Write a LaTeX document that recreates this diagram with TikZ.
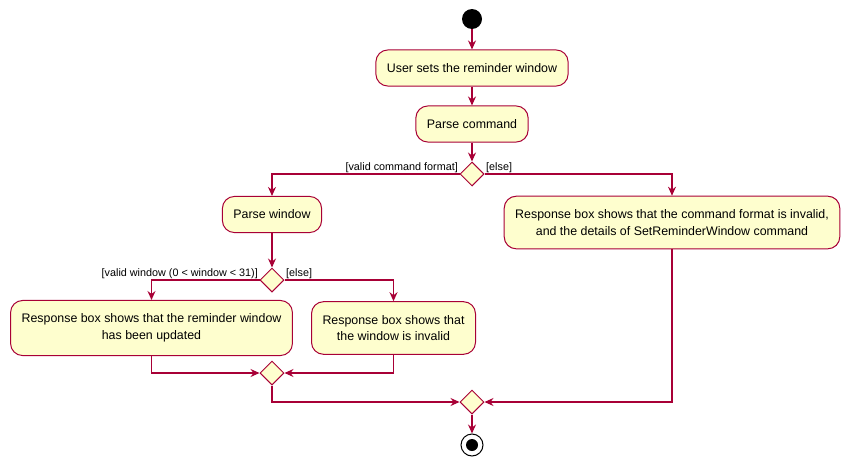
\documentclass[tikz,border=0pt]{standalone}
\usepackage{fontspec}
\setmainfont{Liberation Sans}
\usepackage{xcolor}
\usetikzlibrary{arrows.meta}
\usetikzlibrary{shapes.geometric}
\definecolor{umlred}{HTML}{A80036}
\definecolor{umlfill}{HTML}{FEFECE}
\tikzset{
    act/.style = {rectangle, rounded corners=12pt, draw=umlred, fill=umlfill, line width=1pt, align=center, inner xsep=11pt, inner ysep=13.5pt, font=\fontsize{12.4}{16.5}\selectfont},
    branch/.style = {diamond, draw=umlred, fill=umlfill, line width=1pt, minimum width=24pt, minimum height=24pt, inner sep=0pt},
    startnode/.style = {circle, fill=black, minimum size=20pt, inner sep=0pt},
    endnode/.style = {circle, draw=black, fill=white, line width=1pt, minimum size=22pt, inner sep=0pt},
    guard/.style = {inner sep=1.5pt, font=\fontsize{10.8}{13}\selectfont},
    flow/.style = {->, draw=umlred, line width=1.2pt}
}

\begin{document}
\begin{tikzpicture}[x=1pt, y=-1pt, >={Stealth[length=9pt, width=8pt, inset=3pt]}]
    \useasboundingbox (0,0) rectangle (849,466);
    % nodes
    \node [startnode] (start) at (472,19) {};
    \node [act] (usr) at (472,68) {User sets the reminder window};
    \node [act] (parse) at (472,124) {Parse command};
    \node [branch] (d1) at (472,174) {};
    \node [act] (pwin) at (272,214.5) {Parse window};
    \node [act] (fmt) at (672,222.5) {Response box shows that the command format is invalid,\\and the details of SetReminderWindow command};
    \node [branch] (d2) at (272,280) {};
    \node [act] (upd) at (151.5,328) {Response box shows that the reminder window\\has been updated};
    \node [act] (inv) at (393.5,328) {Response box shows that\\the window is invalid};
    \node [branch] (m1) at (272,373) {};
    \node [branch] (m2) at (472,402) {};
    \node [endnode] (stop) at (472,445) {};
    \fill (stop) circle (6pt);
    % guards
    \node [guard, anchor=south east] (g1) at (d1.west) {[valid command format]};
    \node [guard, anchor=south west] (g2) at (d1.east) {[else]};
    \node [guard, anchor=south east] (g3) at (d2.west) {[valid window (0 < window < 31)]};
    \node [guard, anchor=south west] (g4) at (d2.east) {[else]};
    % flows
    \draw [flow] (start) -- (usr);
    \draw [flow] (usr) -- (parse);
    \draw [flow] (parse) -- (d1);
    \draw [flow] (d1.west) -| (pwin.north);
    \draw [flow] (d1.east) -| (fmt.north);
    \draw [flow] (pwin) -- (d2);
    \draw [flow] (d2.west) -| (upd.north);
    \draw [flow] (d2.east) -| (inv.north);
    \draw [flow] (upd.south) |- (m1.west);
    \draw [flow] (inv.south) |- (m1.east);
    \draw [flow] (m1.south) |- (m2.west);
    \draw [flow] (fmt.south) |- (m2.east);
    \draw [flow] (m2) -- (stop);
\end{tikzpicture}
\end{document}
